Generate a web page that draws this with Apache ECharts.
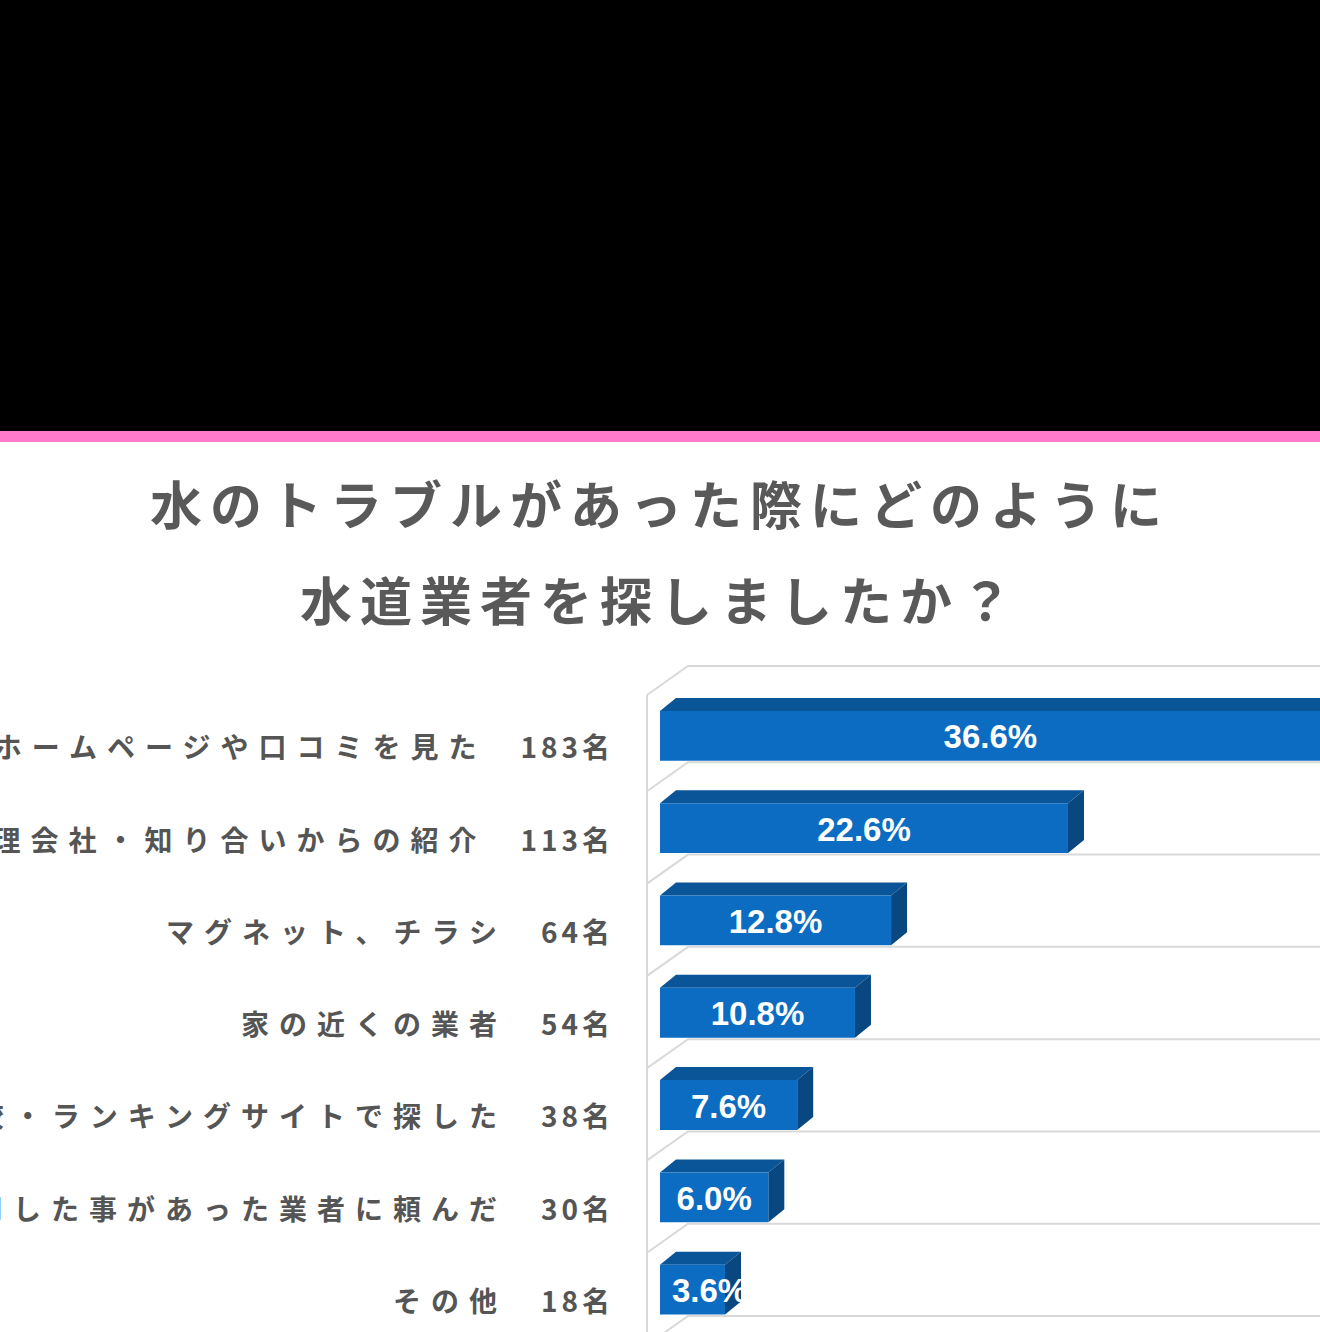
<!DOCTYPE html>
<html>
<head>
<meta charset="utf-8">
<script src="https://cdn.jsdelivr.net/npm/echarts@6/dist/echarts.min.js"></script>
<style>
  html, body { margin: 0; padding: 0; background: #ffffff; }
  #chart { width: 1320px; height: 1332px; }
  /* letter spacing of the Japanese label texts (SVG renderer) */
  #chart text[style*="CJK JP"] { letter-spacing: 10px; }
  #chart text[style*="52px"] { letter-spacing: 8px; }
  #chart text[style*="CJK SC"] { letter-spacing: 4px; }
</style>
</head>
<body>
<div id="chart"></div>
<script>
// ---- data ----
const titleLines = ['水のトラブルがあった際にどのように', '水道業者を探しましたか？'];
const categories = [
  'ホームページや口コミを見た',
  '理会社・知り合いからの紹介',
  'マグネット、チラシ',
  '家の近くの業者',
  '較・ランキングサイトで探した',
  '用した事があった業者に頼んだ',
  'その他'
];
const counts = [183, 113, 64, 54, 38, 30, 18];
const percents = [36.6, 22.6, 12.8, 10.8, 7.6, 6.0, 3.6];

// ---- styling ----
const NAME_FONT = 'Noto Sans CJK JP';
const COUNT_FONT = 'Noto Sans CJK SC';
const NAME_SPACING = 10, COUNT_SPACING = 4;
const TEXT_COLOR = '#555555';
const FRONT = '#0b6cc1', TOP = '#0a5598', SIDE = '#08477f';
const GRID = '#d9d9d9';

const measureCtx = document.createElement('canvas').getContext('2d');
function textWidth(str, font) { measureCtx.font = font; return measureCtx.measureText(str).width; }

const seriesData = percents.map((p, i) => [p, i, counts[i]]);

function renderItem(params, api) {
  const i = api.value(1);
  const v = api.value(0);
  const cnt = api.value(2);
  const p0 = api.coord([0, i]);
  const p1 = api.coord([v, i]);
  const band = api.size([0, 1])[1];
  const yTop = p0[1] - band / 2, yBot = p0[1] + band / 2;
  const x0 = p0[0], x1 = p1[0];
  const W = api.getWidth(), H = api.getHeight();
  const ls = { stroke: GRID, lineWidth: 2, fill: null };
  const children = [];
  function gridLine(gy) {
    children.push({ type: 'polyline', shape: { points: [[x0 - 13, gy + 29], [x0 + 28, gy], [W + 10, gy]] }, style: ls, silent: true });
  }
  const gy = i === 0 ? yTop - 4 : yTop;
  gridLine(gy);
  if (i === 0) {
    children.push({ type: 'line', shape: { x1: x0 - 13, y1: gy + 29, x2: x0 - 13, y2: H + 5 }, style: ls, silent: true });
  }
  if (i === categories.length - 1) gridLine(yBot);

  const fb = yBot - 1.5, ft = fb - band * 0.54;
  const dx = 16, dy = 13;
  children.push({ type: 'polygon', shape: { points: [[x0, ft], [x0 + dx, ft - dy], [x1 + dx, ft - dy], [x1, ft]] }, style: { fill: TOP } });
  children.push({ type: 'polygon', shape: { points: [[x1, ft], [x1 + dx, ft - dy], [x1 + dx, fb - dy], [x1, fb]] }, style: { fill: SIDE } });
  children.push({ type: 'rect', shape: { x: x0, y: ft, width: x1 - x0, height: fb - ft }, style: { fill: FRONT } });

  // value label on the bar
  const pctText = v.toFixed(1) + '%';
  const pw = textWidth(pctText, 'bold 33px "Liberation Sans"');
  const px = Math.max((x0 + x1) / 2, x0 + 12 + pw / 2);
  children.push({ type: 'text', style: { text: pctText, x: px, y: (ft + fb) / 2 + 1, fill: '#ffffff',
    fontSize: 33, fontWeight: 'bold', fontFamily: 'Liberation Sans',
    align: 'center', textAlign: 'center', verticalAlign: 'middle', textVerticalAlign: 'middle' } });

  // category name + count, to the left of the plot
  const ly = yBot - 16;
  const cntText = cnt + '名';
  const countRight = x0 - 50;
  const cw = textWidth(cntText, 'bold 28px "' + COUNT_FONT + '"') + (cntText.length - 1) * COUNT_SPACING;
  children.push({ type: 'text', style: { text: cntText, x: countRight + COUNT_SPACING, y: ly, fill: TEXT_COLOR,
    fontSize: 28, fontWeight: 'bold', fontFamily: COUNT_FONT,
    align: 'right', textAlign: 'right', verticalAlign: 'middle', textVerticalAlign: 'middle' } });
  const nameRight = countRight - cw - 44;
  children.push({ type: 'text', style: { text: categories[i], x: nameRight + NAME_SPACING, y: ly, fill: TEXT_COLOR,
    fontSize: 28, fontWeight: 'bold', fontFamily: NAME_FONT,
    align: 'right', textAlign: 'right', verticalAlign: 'middle', textVerticalAlign: 'middle' } });

  return { type: 'group', children: children };
}

const chart = echarts.init(document.getElementById('chart'), null, { renderer: 'svg', width: 1320, height: 1332 });
chart.setOption({
  animation: false,
  backgroundColor: '#ffffff',
  graphic: [
    { type: 'rect', left: 0, top: 0, shape: { width: 1320, height: 431 }, style: { fill: '#000000' }, z: 0 },
    { type: 'rect', left: 0, top: 431, shape: { width: 1320, height: 11 }, style: { fill: '#ff7acb' }, z: 0 },
    { type: 'text', x: 660, y: 502, style: { text: titleLines[0], fill: '#595959', fontSize: 52, fontWeight: 'bold', fontFamily: NAME_FONT,
      align: 'center', textAlign: 'center', verticalAlign: 'middle', textVerticalAlign: 'middle' } },
    { type: 'text', x: 660, y: 598, style: { text: titleLines[1], fill: '#595959', fontSize: 52, fontWeight: 'bold', fontFamily: NAME_FONT,
      align: 'center', textAlign: 'center', verticalAlign: 'middle', textVerticalAlign: 'middle' } }
  ],
  grid: { left: 660, right: 0, top: 670, bottom: 16, containLabel: false },
  xAxis: { type: 'value', min: 0, max: 36.56, show: false },
  yAxis: { type: 'category', inverse: true, data: categories, show: false },
  series: [{
    type: 'custom',
    renderItem: renderItem,
    encode: { x: 0, y: 1 },
    data: seriesData,
    clip: false
  }]
});
</script>
</body>
</html>
